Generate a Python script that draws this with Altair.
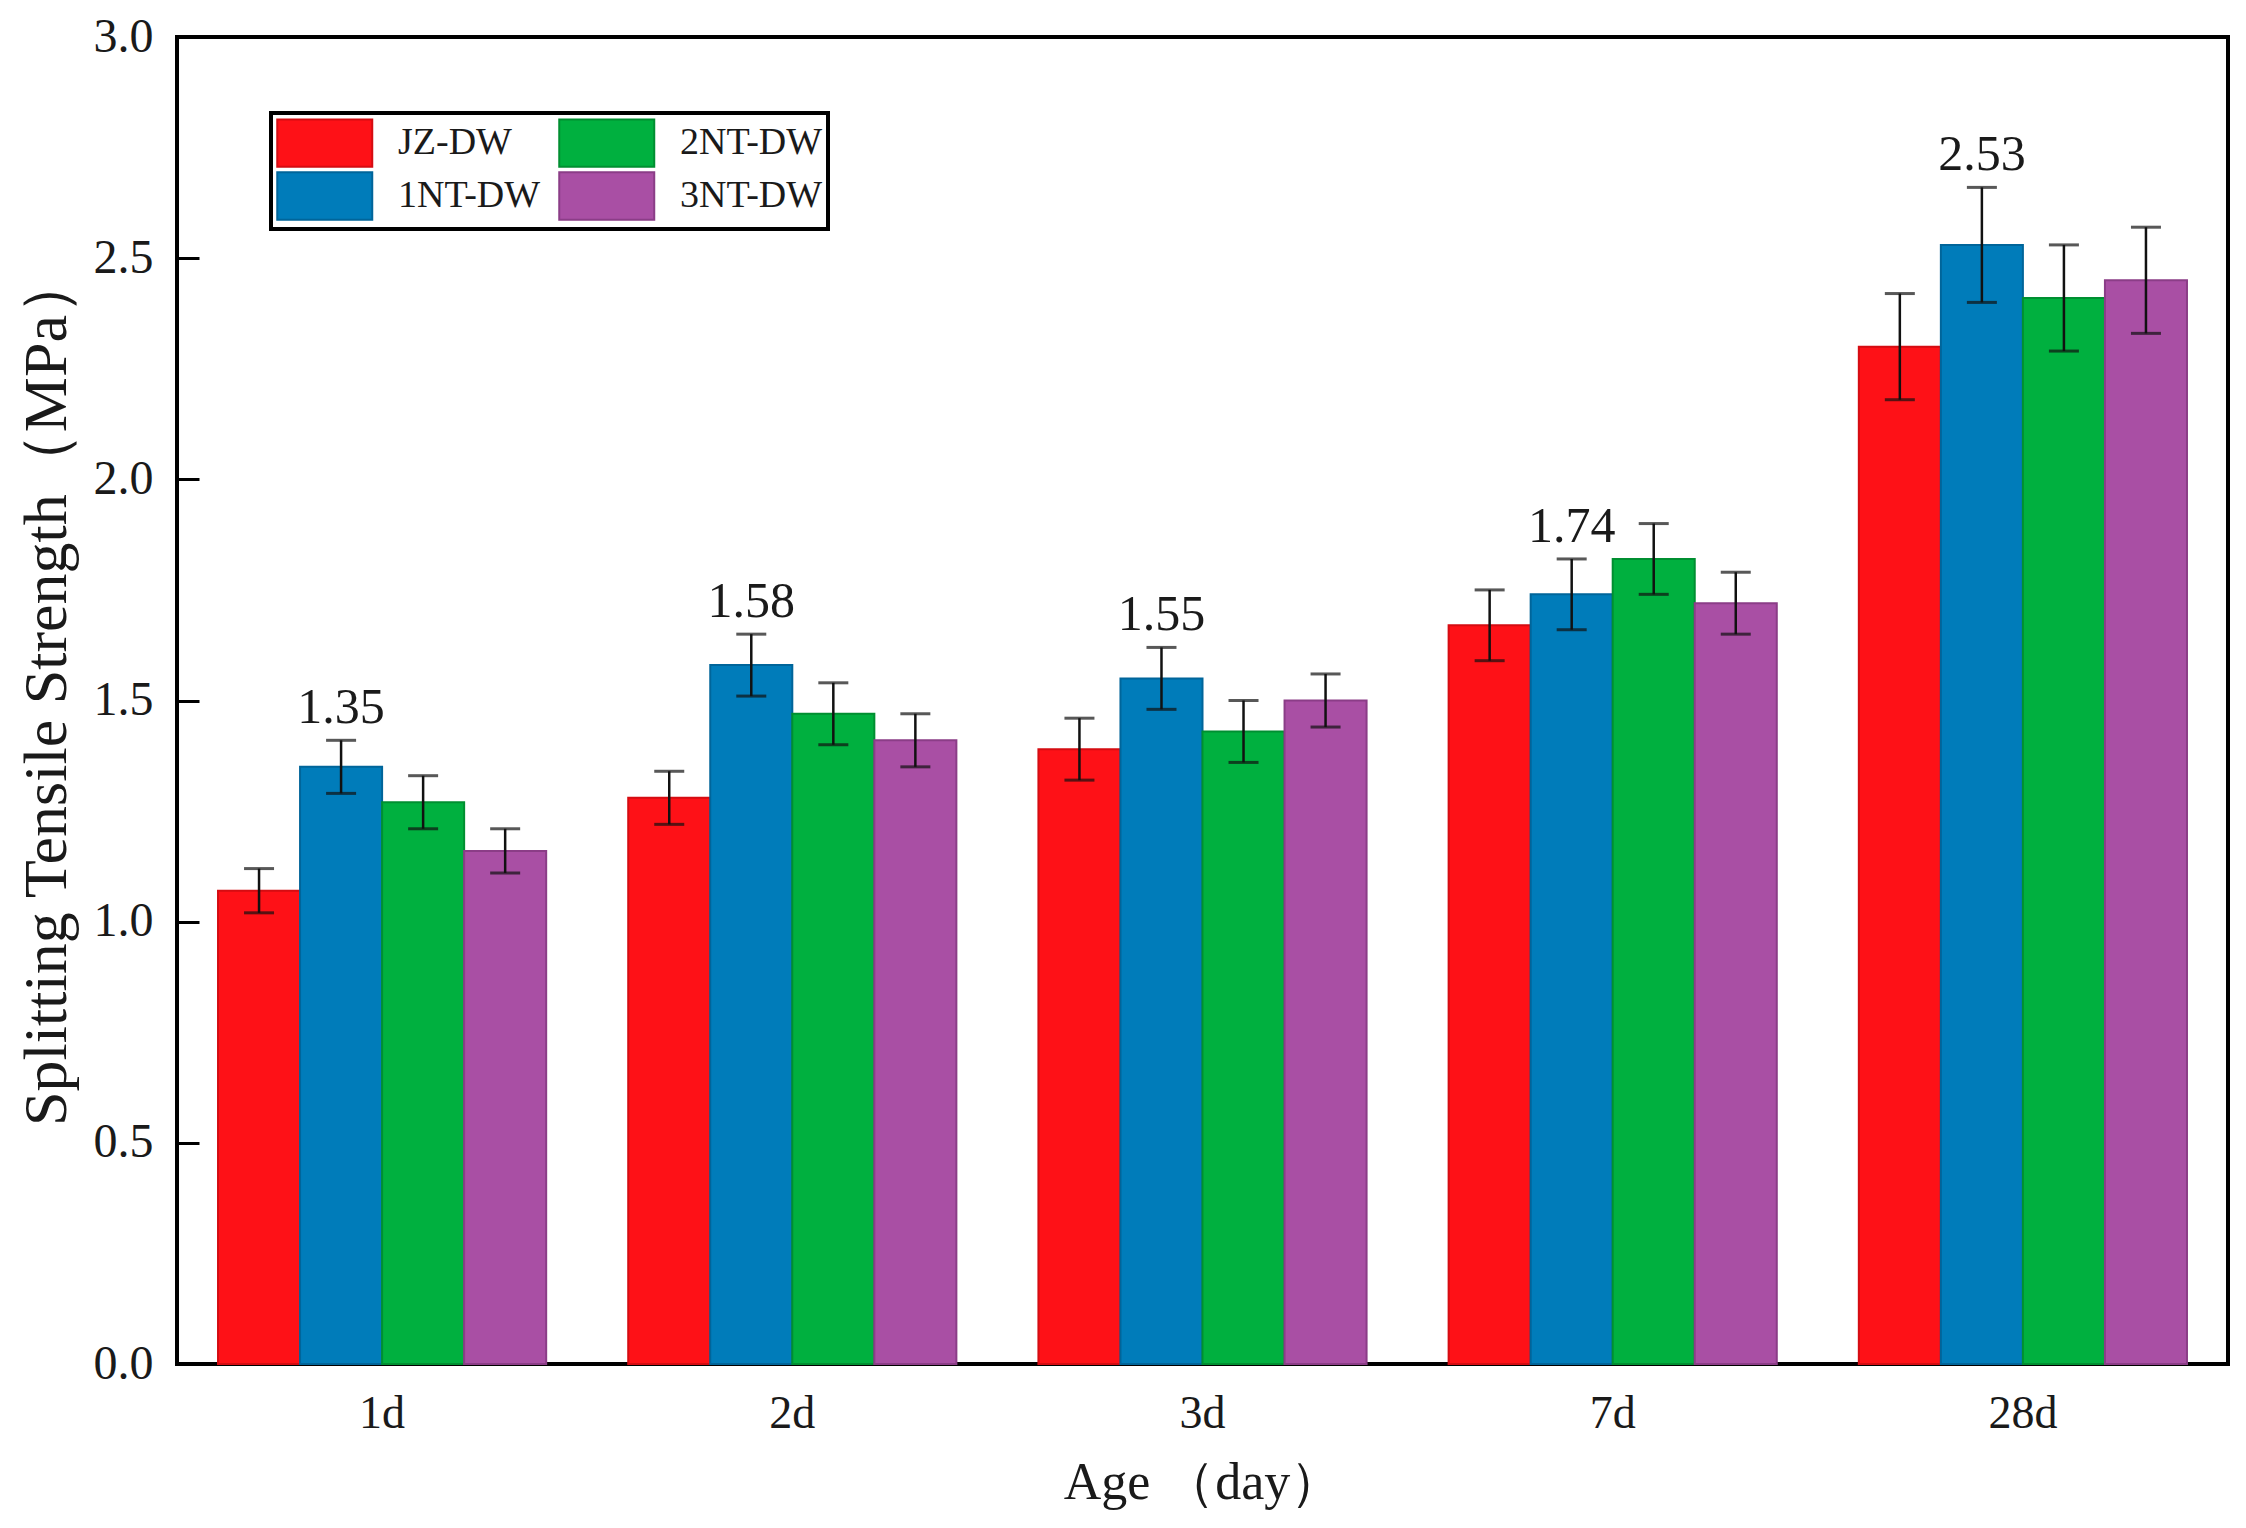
import altair as alt
import pandas as pd

ages = ["1d", "2d", "3d", "7d", "28d"]
series = ["JZ-DW", "1NT-DW", "2NT-DW", "3NT-DW"]

jz = [1.07, 1.28, 1.39, 1.67, 2.30]
jz_err = [0.05, 0.06, 0.07, 0.08, 0.12]
nt1 = [1.35, 1.58, 1.55, 1.74, 2.53]
nt1_err = [0.06, 0.07, 0.07, 0.08, 0.13]
nt2 = [1.27, 1.47, 1.43, 1.82, 2.41]
nt2_err = [0.06, 0.07, 0.07, 0.08, 0.12]
nt3 = [1.16, 1.41, 1.50, 1.72, 2.45]
nt3_err = [0.05, 0.06, 0.06, 0.07, 0.12]

y_ticks = [0.0, 0.5, 1.0, 1.5, 2.0, 2.5, 3.0]

fills = ["#fe1117", "#007cba", "#00b03f", "#a94fa4"]
strokes = ["#d50c12", "#00659a", "#008f31", "#8b3d87"]

vals = [jz, nt1, nt2, nt3]
errs = [jz_err, nt1_err, nt2_err, nt3_err]
rows = []
for s, v, e in zip(series, vals, errs):
    for a, vv, ee in zip(ages, v, e):
        rows.append({"Age": a, "Series": s, "Value": vv, "Err": ee})
df = pd.DataFrame(rows)

FONT = "Liberation Serif"
TXT = "#1a1a1a"

yscale = alt.Scale(domain=[0, 3], nice=False, zero=True)
yaxis = alt.Axis(
    title="Splitting Tensile Strength（MPa）", values=y_ticks, format=".1f",
    domain=False, grid=False, offset=-22, tickSize=22, tickWidth=3,
    tickColor="black", labelPadding=24, labelFont=FONT, labelFontSize=48,
    labelColor=TXT, titleFont=FONT, titleFontSize=62, titleFontWeight="normal",
    titleColor=TXT, titleX=-134, titleY=652, titleAlign="center",
    titleBaseline="alphabetic", titleAngle=270,
)

legend = alt.Legend(
    orient="none", legendX=94, legendY=76, columns=2, title=None,
    symbolType="M-1,-1H3V1H-1Z", symbolSize=2256, symbolStrokeWidth=2,
    symbolOpacity=1, labelOffset=72, rowPadding=-4, columnPadding=14,
    padding=5, strokeColor="black", fillColor="white",
    labelFont=FONT, labelFontSize=38, labelColor=TXT, labelLimit=400,
)

base = alt.Chart(df).transform_calculate(
    Lo="datum.Value - datum.Err", Hi="datum.Value + datum.Err"
).encode(
    x=alt.X(
        "Age:N", sort=ages,
        scale=alt.Scale(paddingInner=0.2, paddingOuter=0.1),
        axis=alt.Axis(
            title="Age （day）", domain=False, ticks=False, labelAngle=0,
            labelPadding=27, labelFont=FONT, labelFontSize=46, labelColor=TXT,
            titleFont=FONT, titleFontSize=52, titleFontWeight="normal", titleColor=TXT,
            titleY=134, titleBaseline="alphabetic",
        ),
    ),
    xOffset=alt.XOffset("Series:N", scale=alt.Scale(domain=series)),
)

bars = base.mark_bar(strokeWidth=2).encode(
    y=alt.Y("Value:Q", scale=yscale, axis=yaxis),
    fill=alt.Fill("Series:N", scale=alt.Scale(domain=series, range=fills), legend=legend),
    stroke=alt.Stroke("Series:N", scale=alt.Scale(domain=series, range=strokes), legend=legend),
)

rule = base.mark_rule(color="#111111", strokeWidth=2.5).encode(
    y=alt.Y("Lo:Q", scale=yscale, axis=yaxis), y2="Hi:Q"
)
cap_hi = base.mark_tick(color="#111111", size=30, thickness=3).encode(
    y=alt.Y("Hi:Q", scale=yscale, axis=yaxis)
)
cap_lo = base.mark_tick(color="#111111", size=30, thickness=3).encode(
    y=alt.Y("Lo:Q", scale=yscale, axis=yaxis)
)
labels = base.transform_filter(alt.datum.Series == "1NT-DW").mark_text(
    baseline="alphabetic", align="center", dy=-17, font=FONT, fontSize=50, color=TXT
).encode(
    y=alt.Y("Hi:Q", scale=yscale, axis=yaxis),
    text=alt.Text("Value:Q", format=".2f"),
)

chart = alt.layer(bars, rule, cap_hi, cap_lo, labels).properties(
    width=2051, height=1327,
    autosize=alt.AutoSizeParams(type="none"),
    padding={"left": 169, "top": 29, "right": 10, "bottom": 156},
    background="white",
).configure_view(
    stroke="black", strokeWidth=4
).configure_legend(
    strokeWidth=4
)

chart.save("out.html", embed_options={"renderer": "svg", "actions": False})
